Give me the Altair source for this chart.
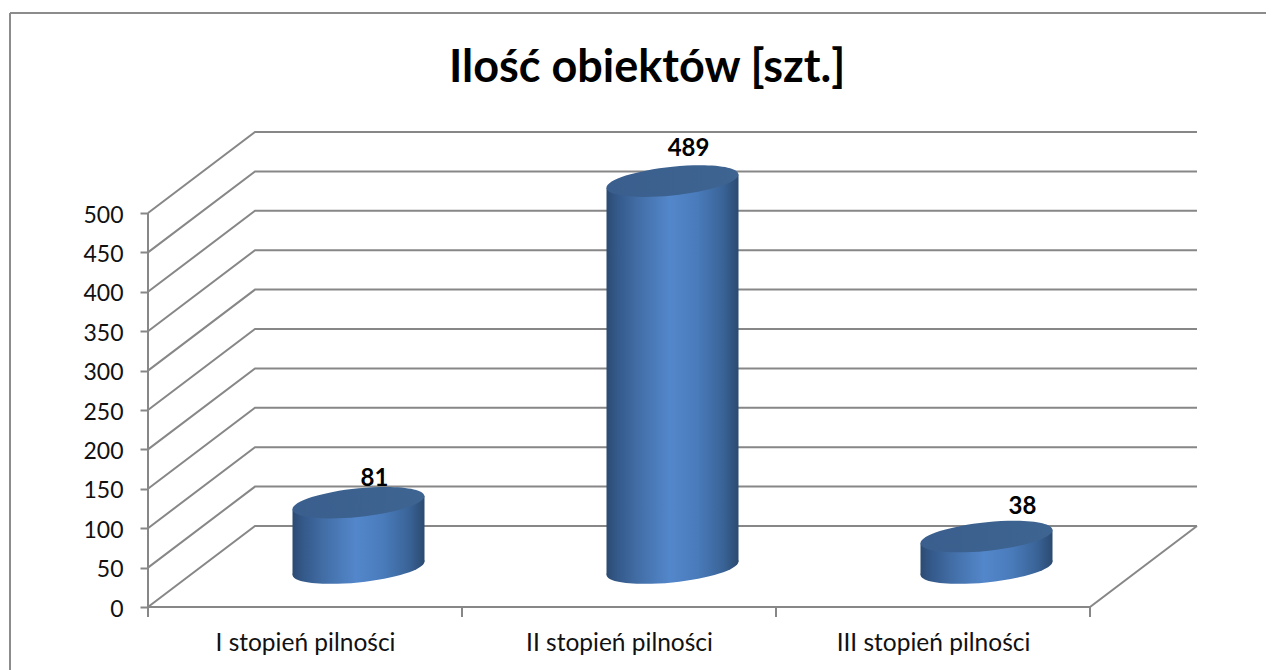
import altair as alt
import pandas as pd

categories = ["I stopień pilności", "II stopień pilności", "III stopień pilności"]
values = [81, 489, 38]
y_ticks = [0, 50, 100, 150, 200, 250, 300, 350, 400, 450, 500]
title_text = "Ilość obiektów [szt.]"

# geometry of the pseudo-3D box, in data units
DEPTH_X = 107 / 314
DEPTH_Y = 81 / 0.788
X_END = len(categories)
X_MAX = 1049 / 314
Y_MAX = 475 / 0.788
HALF_W = 66 / 314
TILT = 8.5
BOTTOM_DROP = 2

GREY = "#878787"
FONT = "Lato"

x_scale = alt.Scale(domain=[0, X_MAX], nice=False, zero=False)
y_scale = alt.Scale(domain=[0, Y_MAX], nice=False, zero=False)
X = lambda f: alt.X(f, type="quantitative", scale=x_scale)
Y = lambda f: alt.Y(f, type="quantitative", scale=y_scale)

# grid: front edge -> back wall -> right end
grid_rows = []
for v in y_ticks:
    for order, (gx, gy) in enumerate([(0, v), (DEPTH_X, v + DEPTH_Y), (X_MAX, v + DEPTH_Y)]):
        grid_rows.append({"tick": v, "order": order, "gx": gx, "gy": gy})
grid = alt.Chart(pd.DataFrame(grid_rows)).mark_line(color=GREY, strokeWidth=2).encode(
    x=alt.X("gx:Q", scale=x_scale,
            axis=alt.Axis(values=[i + 0.5 for i in range(len(categories))],
                          labelExpr="%s[round(datum.value - 0.5)]" % str(categories),
                          title=None, domain=False, ticks=False, grid=False,
                          labelFont=FONT, labelFontSize=24.5, labelColor="#111111", labelLimit=400,
                          labelPadding=36, labelBaseline="middle", labelFlush=False)),
    y=alt.Y("gy:Q", scale=y_scale,
            axis=alt.Axis(values=y_ticks, title=None, domain=False, grid=False,
                          tickColor=GREY, tickWidth=2, tickSize=8,
                          labelFont=FONT, labelFontSize=23, labelColor="#111111",
                          labelPadding=17, labelOffset=2, format="d")),
    detail="tick:N", order="order:Q")

# floor and left wall
floor_rows = [{"s": "front", "o": 0, "fx": 0, "fy": 0}, {"s": "front", "o": 1, "fx": X_END, "fy": 0},
              {"s": "front", "o": 2, "fx": X_END + DEPTH_X, "fy": DEPTH_Y},
              {"s": "wall", "o": 0, "fx": 0, "fy": 0}, {"s": "wall", "o": 1, "fx": 0, "fy": max(y_ticks)}]
floor = alt.Chart(pd.DataFrame(floor_rows)).mark_line(color=GREY, strokeWidth=2).encode(
    x=X("fx"), y=Y("fy"), detail="s:N", order="o:Q")

ticks_x = alt.Chart(pd.DataFrame({"tx": list(range(X_END + 1))})).mark_rule(color=GREY, strokeWidth=2).encode(
    x=X("tx"), y=alt.value(475), y2=alt.value(485))

# cylinders
cx = [i + 0.5 + DEPTH_X / 2 for i in range(len(values))]
base = DEPTH_Y / 2
low = base - BOTTOM_DROP
body_rows = []
for c, v, name in zip(cx, values, categories):
    body_rows.append({"name": name, "bx": c - HALF_W, "top": v + base - TILT, "bot": low - TILT})
    body_rows.append({"name": name, "bx": c + HALF_W, "top": v + base + TILT, "bot": low + TILT})
body_df = pd.DataFrame(body_rows)
ends_df = pd.DataFrame({"name": categories, "c": cx, "top": [v + base for v in values], "bot": [low] * 3})

stops = [(0, "#2c4b72"), (0.08, "#34598a"), (0.25, "#436fa8"), (0.48, "#5387cb"),
         (0.68, "#4a7cbc"), (0.88, "#3a6498"), (1, "#2b4a70")]
cyl_fill = alt.Gradient(gradient="linear", x1=0, x2=1, y1=0, y2=0,
                        stops=[alt.GradientStop(offset=o, color=c) for o, c in stops])
top_fill = alt.Gradient(gradient="linear", x1=0, x2=1, y1=0, y2=0,
                        stops=[alt.GradientStop(offset=0, color="#3a5f8e"),
                               alt.GradientStop(offset=1, color="#3e6491")])

ELLIPSE = "M-1,0.1 A1,0.215 -6 1 1 1,-0.1 A1,0.215 -6 1 1 -1,0.1 Z"
SIZE = 132 ** 2

bodies = alt.Chart(body_df).mark_area(color=cyl_fill, interpolate="linear").encode(
    x=X("bx"), y=Y("top"), y2="bot:Q", detail="name:N")
bottoms = alt.Chart(ends_df).mark_point(filled=True, color=cyl_fill, shape=ELLIPSE, size=SIZE, opacity=1).encode(
    x=X("c"), y=Y("bot"))
tops = alt.Chart(ends_df).mark_point(filled=True, color=top_fill, shape=ELLIPSE, size=SIZE, opacity=1).encode(
    x=X("c"), y=Y("top"))

# value labels (each sits a little differently, as in the reference)
label_layers = []
for c, v, (dx, dy) in zip(cx, values, [(16, -24), (16, -32), (36, -30)]):
    label_layers.append(
        alt.Chart(pd.DataFrame({"c": [c], "v": [v + base], "t": [str(v)]}))
        .mark_text(font=FONT, fontWeight="bold", fontSize=24, color="#000000", dx=dx, dy=dy)
        .encode(x=X("c"), y=Y("v"), text="t:N"))

# outer frame
frame_left = alt.Chart(pd.DataFrame({"a": [0]})).mark_rule(color="#8c8c8c", strokeWidth=2).encode(
    x=alt.value(-138), y=alt.value(-119), y2=alt.value(538))
frame_top = alt.Chart(pd.DataFrame({"a": [0]})).mark_rule(color="#8c8c8c", strokeWidth=2).encode(
    y=alt.value(-119), x=alt.value(-138), x2=alt.value(1126))

chart = alt.layer(frame_left, frame_top, grid, floor, ticks_x, bodies, bottoms, tops, *label_layers).properties(
    width=1049, height=475,
    autosize=alt.AutoSizeParams(type="none"),
    padding={"left": 140, "top": 124, "right": 69, "bottom": 63},
    title=alt.TitleParams(title_text, font=FONT, fontSize=45, fontWeight="bold", color="#000000",
                          anchor="start", dx=440, offset=-79),
    background="white",
).configure_view(stroke=None)

chart.save("out.html", embed_options={"renderer": "svg", "actions": False})
